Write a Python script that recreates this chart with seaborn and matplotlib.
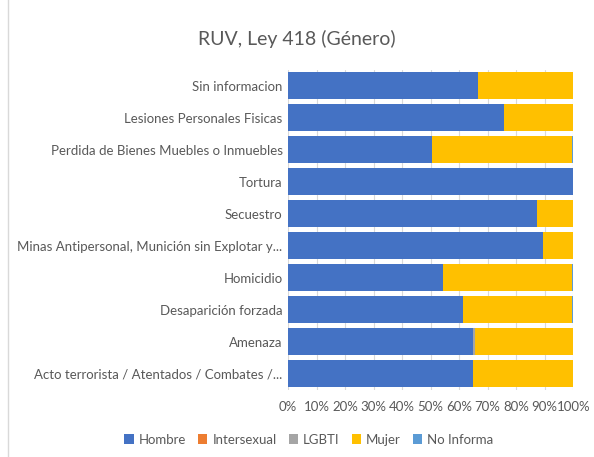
import matplotlib
matplotlib.use("Agg")
import matplotlib.pyplot as plt
import seaborn as sns
import pandas as pd
import numpy as np
from matplotlib.patches import Rectangle, Patch

categories = [
    "Sin informacion",
    "Lesiones Personales Fisicas",
    "Perdida de Bienes Muebles o Inmuebles",
    "Tortura",
    "Secuestro",
    "Minas Antipersonal, Munición sin Explotar y...",
    "Homicidio",
    "Desaparición forzada",
    "Amenaza",
    "Acto terrorista / Atentados / Combates /...",
]
hombre      = [66.6, 75.7, 50.3, 100.0, 87.2, 89.4, 54.3, 61.3, 64.9, 64.8]
intersexual = [0.0, 0.0, 0.0, 0.0, 0.0, 0.0, 0.0, 0.0, 0.1, 0.0]
lgbti       = [0.0, 0.0, 0.1, 0.0, 0.0, 0.0, 0.1, 0.1, 0.6, 0.1]
mujer       = [33.4, 24.3, 49.3, 0.0, 12.8, 10.6, 45.3, 38.3, 34.4, 35.1]
no_informa  = [0.0, 0.0, 0.3, 0.0, 0.0, 0.0, 0.3, 0.3, 0.0, 0.0]

series_names = ["Hombre", "Intersexual", "LGBTI", "Mujer", "No Informa"]
colors = ["#4472C4", "#ED7D31", "#A5A5A5", "#FFC000", "#5B9BD5"]

sns.set_theme(style="white")
plt.rcParams["font.family"] = ["Lato", "DejaVu Sans"]

df = pd.DataFrame({
    "cat": categories,
    "Hombre": hombre,
    "Intersexual": intersexual,
    "LGBTI": lgbti,
    "Mujer": mujer,
    "No Informa": no_informa,
})
cum = df[series_names].cumsum(axis=1)
total = cum["No Informa"].values
cum = cum.div(total, axis=0) * 100

fig = plt.figure(figsize=(5.94, 4.57), dpi=100)
ax = fig.add_axes([0.485, 0.147, 0.48, 0.70])

for name, col in reversed(list(zip(series_names, colors))):
    sns.barplot(x=cum[name].values, y=df["cat"], orient="h", color=col,
                width=0.84, ax=ax, saturation=1, edgecolor="none", linewidth=0)

ax.set_xlim(0, 100)
ax.set_xticks(np.arange(0, 101, 10))
ax.set_xticklabels([f"{v}%" for v in range(0, 101, 10)])
ax.xaxis.grid(True, color="#D9D9D9", linewidth=0.8)
ax.set_axisbelow(True)
for s in ax.spines.values():
    s.set_visible(False)
ax.set_xlabel("")
ax.set_ylabel("")
ax.tick_params(axis="both", length=0, colors="#595959", labelsize=9.5)
ax.tick_params(axis="y", pad=4)
ax.tick_params(axis="x", pad=8)

fig.text(0.5, 0.915, "RUV, Ley 418 (Género)", ha="center", va="center",
         fontsize=14, color="#595959")

handles = [Patch(facecolor=c, edgecolor="none") for c in colors]
fig.legend(handles, series_names, loc="center", bbox_to_anchor=(0.52, 0.038),
           ncol=5, frameon=False, fontsize=9.5, handlelength=0.7, handleheight=0.7,
           columnspacing=0.9, handletextpad=0.4, labelcolor="#595959")

fig.patches.append(Rectangle((0.013, -0.01), 1.0, 1.02, transform=fig.transFigure,
                             fill=False, edgecolor="#D9D9D9", linewidth=1))

fig.savefig("out.png", dpi=100)
